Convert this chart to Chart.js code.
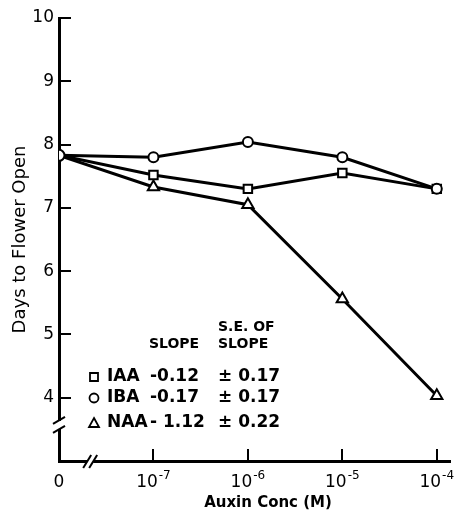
<!DOCTYPE html>
<html>
<head>
<meta charset="utf-8">
<script src="https://cdn.jsdelivr.net/npm/chart.js@4.4.1/dist/chart.umd.min.js"></script>
<style>
html,body{margin:0;padding:0;background:#fff}
#wrap{width:456px;height:522px}
</style>
</head>
<body>
<div id="wrap"><canvas id="graph" width="456" height="522"></canvas></div>
<script>
// auxin concentration steps (0 then 10^-7 .. 10^-4 M)
const concPos=[0,1,2,3,4]
const concLabels=['0','10^-7','10^-6','10^-5','10^-4']
// days to flower open
const iaaDays=[7.83,7.52,7.30,7.55,7.30]
const ibaDays=[7.83,7.80,8.04,7.80,7.30]
const naaDays=[7.83,7.33,7.05,5.56,4.03]
const dayTicks=[4,5,6,7,8,9,10]
// slope table
const auxins=['IAA','IBA','NAA']
const slopes=['-0.12','-0.17','- 1.12']
const slopeErrs=['± 0.17','± 0.17','± 0.22']
const symbols=['rect','circle','triangle']

const FONT='"DejaVu Sans", sans-serif'

function series(vals){
    return vals.map((v,i)=>({x:concPos[i],y:v}))
}

function drawSymbol(ctx,kind,cx,cy){
    ctx.beginPath()
    if(kind=='rect') ctx.rect(cx-4,cy-4,8,8)
    else if(kind=='circle') ctx.arc(cx,cy,4.5,0,Math.PI*2)
    else{
        ctx.moveTo(cx,cy-5)
        ctx.lineTo(cx+5,cy+4)
        ctx.lineTo(cx-5,cy+4)
        ctx.closePath()
    }
    ctx.stroke()
}

const extras={
    id:'extras',
    afterDraw(chart){
        const {ctx,chartArea:a,scales:{x,y}}=chart
        ctx.save()
        ctx.strokeStyle='#000'
        ctx.lineWidth=2
        // ticks point inward
        dayTicks.forEach(v=>{
            const py=Math.round(y.getPixelForValue(v))
            ctx.beginPath();ctx.moveTo(a.left,py);ctx.lineTo(a.left+12,py);ctx.stroke()
        })
        concPos.slice(1).forEach(v=>{
            const px=Math.round(x.getPixelForValue(v))
            ctx.beginPath();ctx.moveTo(px,a.bottom);ctx.lineTo(px,a.bottom-12);ctx.stroke()
        })
        // axis breaks
        ctx.fillStyle='#fff'
        const by=y.getPixelForValue(3.57)
        ctx.fillRect(a.left-3,by-4,6,8)
        ctx.beginPath();ctx.moveTo(a.left-6,by-1);ctx.lineTo(a.left+6,by-8);ctx.stroke()
        ctx.beginPath();ctx.moveTo(a.left-6,by+8);ctx.lineTo(a.left+6,by+1);ctx.stroke()
        const bx=x.getPixelForValue(0.33)
        ctx.fillRect(bx-3,a.bottom-3,6,6)
        ctx.beginPath();ctx.moveTo(bx-7,a.bottom+7);ctx.lineTo(bx+1,a.bottom-6);ctx.stroke()
        ctx.beginPath();ctx.moveTo(bx-1,a.bottom+7);ctx.lineTo(bx+7,a.bottom-6);ctx.stroke()

        ctx.fillStyle='#000'
        ctx.textBaseline='middle'
        // x tick labels with raised exponents
        concPos.forEach((v,i)=>{
            const [base,exp]=concLabels[i].split('^')
            const px=x.getPixelForValue(v)
            ctx.font='17px '+FONT
            const bw=ctx.measureText(base).width
            ctx.font='12px '+FONT
            const ew=exp?ctx.measureText(exp).width+1:0
            const left=px-(bw+ew)/2
            ctx.textAlign='left'
            ctx.font='17px '+FONT
            ctx.fillText(base,left,a.bottom+22)
            if(exp){
                ctx.font='12px '+FONT
                ctx.fillText(exp,left+bw+1,a.bottom+15)
            }
        })
        // x title
        ctx.textAlign='center'
        ctx.font='bold 15px '+FONT
        ctx.fillText('Auxin Conc (M)',268,a.bottom+42)

        // slope table
        ctx.font='bold 14px '+FONT
        ctx.fillText('SLOPE',a.left+115,a.bottom-117)
        ctx.textAlign='left'
        ctx.fillText('S.E. OF',a.left+159,a.bottom-134)
        ctx.fillText('SLOPE',a.left+159,a.bottom-117)
        const rowY=[a.bottom-84,a.bottom-63,a.bottom-38]
        ctx.font='bold 17px '+FONT
        ctx.lineWidth=1.8
        auxins.forEach((name,i)=>{
            drawSymbol(ctx,symbols[i],a.left+35,rowY[i])
            ctx.fillText(name,a.left+48,rowY[i])
            ctx.fillText(slopes[i],a.left+91,rowY[i])
            ctx.fillText(slopeErrs[i],a.left+159,rowY[i])
        })
        ctx.restore()
    }
}

const common={
    borderColor:'#000',
    borderWidth:3,
    tension:0,
    fill:false,
    pointBackgroundColor:'#fff',
    pointBorderColor:'#000',
    pointBorderWidth:2
}

new Chart('graph',{
    type:'line',
    data:{
        datasets:[
            {...common,label:'IBA',data:series(ibaDays),pointStyle:'circle',pointRadius:[5.5,5,5,5,5],order:0},
            {...common,label:'IAA',data:series(iaaDays),pointStyle:'rect',pointRadius:[0,6,6,6,6],order:1},
            {...common,label:'NAA',data:series(naaDays),pointStyle:'triangle',pointRadius:[0,6.5,6.5,6.5,6.5],order:2}
        ]
    },
    options:{
        responsive:false,
        animation:false,
        devicePixelRatio:1,
        layout:{autoPadding:false,padding:{top:18,right:6,left:0,bottom:0}},
        plugins:{
            legend:{display:false},
            tooltip:{enabled:false}
        },
        scales:{
            x:{
                type:'linear',
                min:0,
                max:4.14,
                afterBuildTicks:s=>{s.ticks=concPos.map(v=>({value:v}))},
                afterFit:s=>{s.height=61},
                grid:{display:false},
                border:{display:true,color:'#000',width:3},
                ticks:{display:false}
            },
            y:{
                min:3,
                max:10,
                afterBuildTicks:s=>{s.ticks=dayTicks.map(v=>({value:v}))},
                afterFit:s=>{s.width=59},
                grid:{display:false},
                border:{display:true,color:'#000',width:3},
                ticks:{
                    color:'#000',
                    padding:-3,
                    font:{family:FONT,size:17}
                },
                title:{
                    display:true,
                    text:'Days to Flower Open',
                    color:'#000',
                    font:{family:FONT,size:18},
                    padding:{top:10,bottom:0}
                }
            }
        }
    },
    plugins:[extras]
})
</script>
</body>
</html>
